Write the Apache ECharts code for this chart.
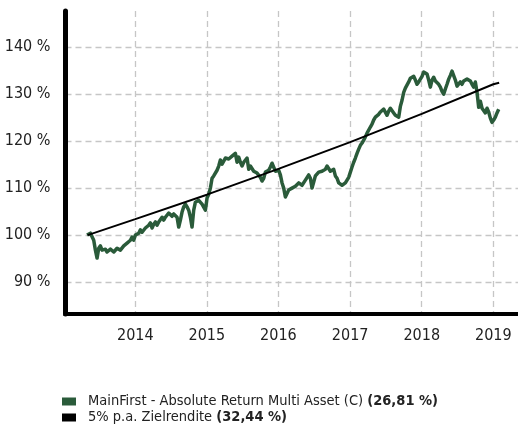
<!DOCTYPE html>
<html>
<head>
<meta charset="utf-8">
<script src="https://cdn.jsdelivr.net/npm/echarts@6/dist/echarts.min.js"></script>
<style>
  html, body { margin: 0; padding: 0; background: #fff; }
  #chart { width: 518px; height: 432px; }
</style>
</head>
<body>
<div id="chart"></div>
<script>
const yearTicks = ['2014-01-01', '2015-01-01', '2016-01-01', '2017-01-01', '2018-01-01', '2019-01-01']
const yTicks = [90, 100, 110, 120, 130, 140]

const fundName = 'MainFirst - Absolute Return Multi Asset (C)'
const fundResult = '26,81 %'
const targetName = '5% p.a. Zielrendite'
const targetResult = '32,44 %'

// fund price index, one value every 8.5 days from fundStart
const fundStart = '2013-04-30'
const fundStepDays = 8.5
const fundValues = [
  100.0, 100.2, 100.4, 100.5, 98.9, 96.8, 95.1, 97.2, 97.7, 96.8,
  97.2, 97.0, 96.4, 96.5, 97.0, 96.8, 96.4, 96.8, 97.2, 97.1,
  96.8, 97.2, 97.7, 97.9, 98.3, 98.6, 98.9, 99.6, 98.9, 100.0,
  99.6, 100.4, 101.1, 100.6, 100.7, 101.5, 101.7, 102.1, 102.6, 101.5,
  102.3, 102.8, 102.1, 102.8, 103.2, 103.8, 103.2, 103.8, 103.4, 104.7,
  104.3, 104.0, 104.5, 104.5, 103.8, 101.7, 103.2, 104.9, 106.0, 106.6,
  106.0, 105.3, 103.8, 101.7, 105.3, 107.0, 106.8, 107.4, 107.0, 106.6,
  106.8, 105.3, 107.9, 108.7, 110.0, 112.1, 112.6, 112.8, 113.8, 114.7,
  116.0, 115.1, 115.5, 116.4, 116.8, 116.2, 116.4, 116.8, 117.2, 117.4,
  115.5, 116.6, 115.5, 114.7, 115.5, 115.3, 116.4, 114.0, 114.7, 114.3,
  113.6, 113.2, 113.2, 112.8, 112.3, 111.5, 112.1, 113.4, 113.4, 113.8,
  114.5, 115.3, 115.1, 113.6, 113.6, 113.8, 112.8, 111.1, 110.0, 108.1,
  107.9, 109.6, 109.6, 110.0, 110.0, 110.4, 110.6, 111.1, 111.3, 110.6,
  110.9, 111.7, 112.1, 112.8, 112.1, 110.0, 111.3, 112.6, 113.0, 113.4,
  113.2, 113.6, 113.8, 114.0, 114.7, 114.9, 113.6, 113.8, 114.0, 112.6,
  112.1, 111.1, 110.9, 110.6, 110.9, 111.1, 111.5, 112.3, 113.4, 114.5,
  115.5, 116.4, 117.4, 118.3, 119.1, 119.6, 120.2, 120.9, 121.7, 122.1,
  123.0, 123.6, 124.5, 125.1, 125.3, 125.7, 126.2, 126.4, 126.8, 126.6,
  125.5, 126.4, 127.0, 126.6, 126.0, 125.5, 125.3, 125.1, 127.4, 128.7,
  130.4, 131.3, 131.7, 132.6, 133.4, 133.8, 133.8, 133.0, 132.1, 132.6,
  132.8, 133.8, 134.7, 134.5, 134.3, 133.0, 131.5, 133.0, 133.6, 132.8,
  133.0, 132.1, 131.5, 130.6, 130.0, 131.1, 132.1, 133.2, 134.0, 134.9,
  134.7, 133.0, 131.7, 132.1, 132.6, 132.1, 132.8, 132.6, 133.2, 133.0,
  132.8, 132.1, 131.5, 132.6, 130.4, 127.2, 128.5, 127.0, 127.4, 126.0,
  127.0, 126.2, 124.9, 124.0, 124.5, 125.1, 126.0, 126.8
]

const targetDates = ['2013-05-03', '2014-01-01', '2015-01-01', '2016-01-01', '2017-01-01', '2018-01-01', '2019-01-01', '2019-01-31']
const targetValues = [100.0, 103.4, 108.6, 114.1, 119.8, 125.8, 132.1, 132.44]

const fontFamily = "'Liberation Sans Narrow', 'DejaVu Sans Condensed', 'Roboto', sans-serif"
const DAY = 24 * 3600 * 1000
const toTime = d => new Date(d + 'T00:00:00Z').getTime()
const t0 = toTime(fundStart)
const fundData = fundValues.map((v, i) => [t0 + i * fundStepDays * DAY, v])
const targetData = targetDates.map((d, i) => [toTime(d), targetValues[i]])
const yearValues = yearTicks.map(toTime)

const legendText = {
  fontFamily: fontFamily,
  fontSize: 14.5,
  color: '#222',
  padding: [0, 0, 0, 7],
  rich: {
    b: { fontFamily: fontFamily, fontSize: 14.5, fontWeight: 'bold', color: '#222' }
  }
}

const makeLegend = (name, result, top) => ({
  left: 62,
  top: top,
  itemWidth: 14,
  itemHeight: 8,
  icon: 'rect',
  padding: 0,
  data: [name],
  formatter: n => n + ' {b|(' + result + ')}',
  textStyle: legendText
})

const chart = echarts.init(document.getElementById('chart'))

const option = {
  animation: false,
  textStyle: { fontFamily: fontFamily },
  grid: {
    left: 65.5,
    right: 0,
    top: 11,
    bottom: 118
  },
  legend: [
    makeLegend(fundName, fundResult, 394),
    makeLegend(targetName, targetResult, 410)
  ],
  xAxis: {
    type: 'value',
    min: toTime('2013-01-10'),
    max: toTime('2019-05-07'),
    axisLine: {
      show: true,
      lineStyle: { color: '#000', width: 4, cap: 'square' }
    },
    axisTick: { show: false, customValues: yearValues },
    axisLabel: {
      customValues: yearValues,
      formatter: v => String(new Date(v).getUTCFullYear()),
      fontFamily: fontFamily,
      fontSize: 16,
      color: '#222',
      margin: 14
    },
    splitLine: {
      show: true,
      lineStyle: { color: '#c6c6c6', width: 1.3, type: [6, 4] }
    }
  },
  yAxis: {
    type: 'value',
    min: 83.2,
    max: 147.7,
    axisLine: {
      show: true,
      lineStyle: { color: '#000', width: 5 }
    },
    axisTick: { show: false, customValues: yTicks },
    axisLabel: {
      customValues: yTicks,
      formatter: v => v + ' %',
      fontFamily: fontFamily,
      fontSize: 16,
      color: '#222',
      margin: 15
    },
    splitLine: {
      show: true,
      lineStyle: { color: '#c6c6c6', width: 1.3, type: [6, 4] }
    }
  },
  series: [
    {
      name: fundName,
      type: 'line',
      data: fundData,
      showSymbol: false,
      color: '#2a5b3a',
      lineStyle: { width: 3.5, color: '#2a5b3a', join: 'round' }
    },
    {
      name: targetName,
      type: 'line',
      data: targetData,
      showSymbol: false,
      color: '#000',
      lineStyle: { width: 2, color: '#000' }
    }
  ]
}

chart.setOption(option)
</script>
</body>
</html>
